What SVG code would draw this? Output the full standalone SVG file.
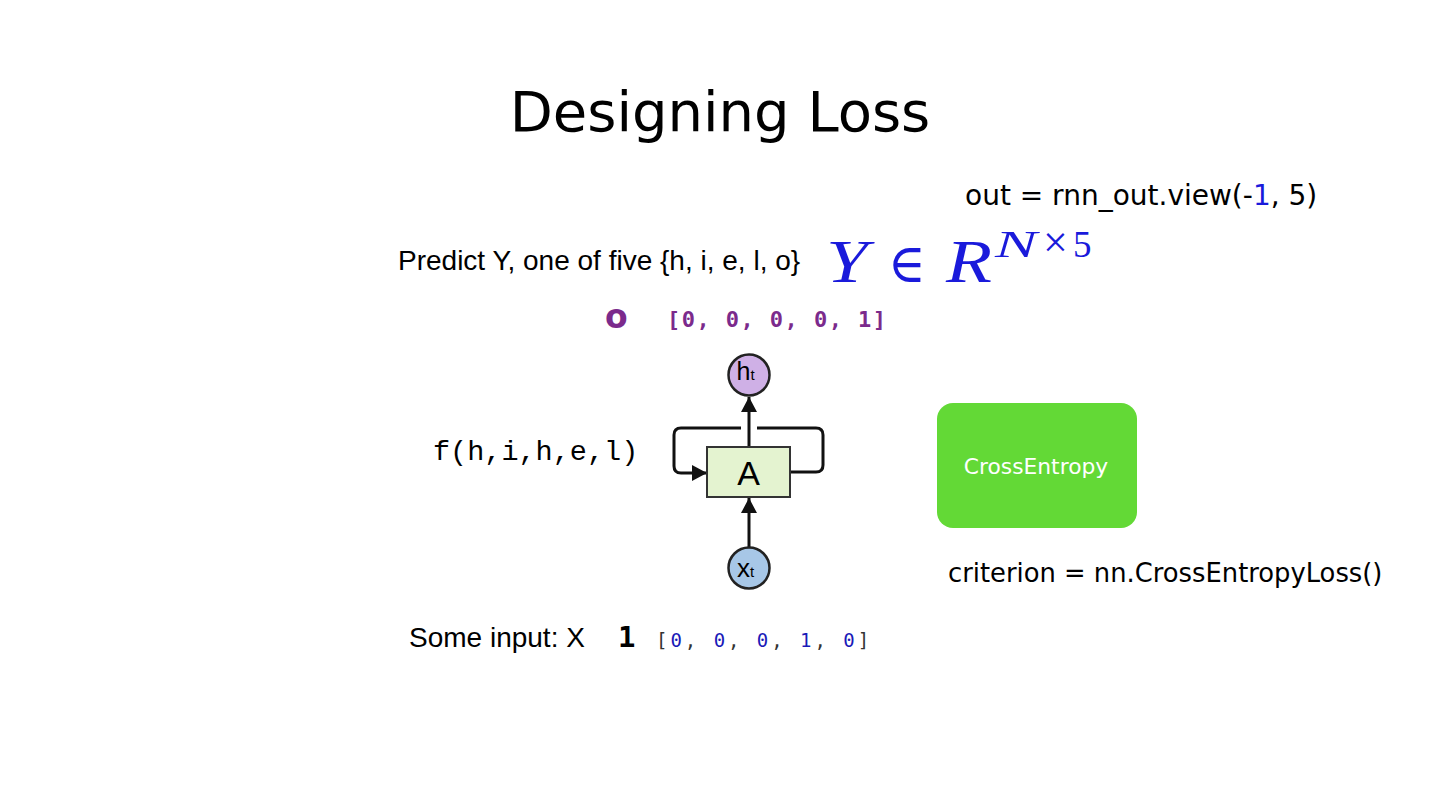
<svg xmlns="http://www.w3.org/2000/svg" width="1440" height="811" viewBox="0 0 1440 811">
<style>
.dv{font-family:"DejaVu Sans",sans-serif;fill:#000}
.ar{font-family:"Liberation Sans",Arial,sans-serif;fill:#000}
.lmono{font-family:"Liberation Mono","DejaVu Sans Mono",monospace}
.dmono{font-family:"DejaVu Sans Mono",monospace}
.math{font-family:"Liberation Serif","DejaVu Serif",serif;fill:#1a1adb}
.conn{fill:none;stroke:#111;stroke-width:3;stroke-linejoin:round}
</style>
<defs>
<marker id="ah" markerUnits="userSpaceOnUse" markerWidth="18" markerHeight="18" refX="15" refY="8" orient="auto">
<path d="M0,0 L15,8 L0,16 Z" fill="#111"/>
</marker>
</defs>
<rect x="0" y="0" width="1440" height="811" fill="#fff"/>

<g id="title"><text class="dv" x="720" y="131" font-size="56" text-anchor="middle">Designing Loss</text></g>

<g id="out-code"><text class="dv" x="965" y="205" font-size="28">out = rnn_out.view(-<tspan fill="#1a1adb">1</tspan>, 5)</text></g>

<g id="predict"><text class="ar" x="398" y="270" font-size="28">Predict Y, one of five {h, i, e, l, o}</text></g>

<g id="math">
<text class="math" x="826" y="282" font-size="62" font-style="italic" textLength="42" lengthAdjust="spacingAndGlyphs">Y</text>
<text class="math" x="888" y="282" font-size="54" textLength="38" lengthAdjust="spacingAndGlyphs">∈</text>
<text class="math" x="946" y="282" font-size="62" font-style="italic" textLength="46" lengthAdjust="spacingAndGlyphs">R</text>
<text class="math" x="995" y="257" font-size="37" font-style="italic" textLength="42" lengthAdjust="spacingAndGlyphs">N</text>
<text class="math" x="1043" y="257" font-size="44">×</text>
<text class="math" x="1073" y="257" font-size="37">5</text>
</g>

<g id="target">
<text x="605" y="328" font-family="DejaVu Sans,sans-serif" font-weight="bold" font-size="33" fill="#7b2a8c">o</text>
<text class="dmono" x="667" y="327" font-size="22" font-weight="bold" letter-spacing="1.45" fill="#7b2a8c">[0, 0, 0, 0, 1]</text>
</g>

<g id="func"><text class="lmono" x="433" y="460" font-size="28.5" fill="#000">f(h,i,h,e,l)</text></g>

<g id="connectors">
<line class="conn" x1="749" y1="548" x2="749" y2="498" marker-end="url(#ah)"/>
<line class="conn" x1="749" y1="447" x2="749" y2="397" marker-end="url(#ah)"/>
<path class="conn" d="M790,472 H816 Q823,472 823,465 V435 Q823,428 816,428 H757"/>
<path class="conn" d="M741,428 H681 Q674,428 674,435 V466 Q674,473 681,473 H707" marker-end="url(#ah)"/>
</g>

<g id="node-A">
<rect x="707" y="447" width="83" height="50" fill="#e4f3d0" stroke="#333" stroke-width="2"/>
<text class="ar" x="748.5" y="485" font-size="34" text-anchor="middle" fill="#111">A</text>
</g>

<g id="node-ht">
<circle cx="749" cy="375" r="20.5" fill="#cfb0e6" stroke="#222" stroke-width="2.5"/>
<text class="ar" x="736.5" y="379.5" font-size="25" fill="#222">h<tspan font-size="15">t</tspan></text>
</g>

<g id="node-xt">
<circle cx="749" cy="568" r="20.5" fill="#a7c7e7" stroke="#222" stroke-width="2.5"/>
<text class="ar" x="737" y="577" font-size="26" fill="#222">x<tspan font-size="15">t</tspan></text>
</g>

<g id="node-crossentropy">
<rect x="937" y="403" width="200" height="125" rx="16" fill="#63d936"/>
<text class="dv" x="1036" y="474" font-size="21.8" text-anchor="middle" style="fill:#fff">CrossEntropy</text>
</g>

<g id="criterion"><text class="dv" x="948" y="582" font-size="25.8">criterion = nn.CrossEntropyLoss()</text></g>

<g id="input">
<text class="ar" x="409" y="647" font-size="28">Some input: X</text>
<text class="dmono" x="618" y="647" font-weight="bold" font-size="29" fill="#000">1</text>
<text class="dmono" x="656" y="647" font-size="19" letter-spacing="2.96" fill="#333">[<tspan fill="#1a1ab8">0</tspan>, <tspan fill="#1a1ab8">0</tspan>, <tspan fill="#1a1ab8">0</tspan>, <tspan fill="#1a1ab8">1</tspan>, <tspan fill="#1a1ab8">0</tspan>]</text>
</g>
</svg>
